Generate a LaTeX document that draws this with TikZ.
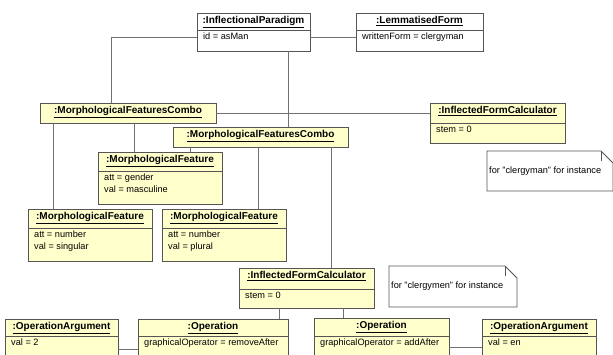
\documentclass[tikz,border=0pt]{standalone}
\usepackage{fontspec}
\setmainfont{Liberation Sans}
\usetikzlibrary{positioning,fit,calc}

\definecolor{objyellow}{HTML}{FFFFCC}
\definecolor{objedge}{HTML}{555555}
\definecolor{connline}{HTML}{707070}

\tikzset{
  objbox/.style={draw=objedge, line width=0.8pt, inner sep=0pt},
  yellowbox/.style={objbox, fill=objyellow},
  whitebox/.style={objbox, fill=white},
  objtitle/.style={inner sep=0pt, anchor=base, font=\fontsize{10}{12}\selectfont\bfseries},
  objattr/.style={inner sep=0pt, anchor=north west, align=left, font=\fontsize{9.2}{12.5}\selectfont},
  conn/.style={draw=connline, line width=0.8pt},
  notebox/.style={draw=objedge, line width=0.8pt, fill=white},
  notetext/.style={inner sep=0pt, anchor=base west, font=\fontsize{9.2}{11}\selectfont},
}

% object box: name, style, left, top, right, bottom, divider, title, attributes
\newcommand{\umlobj}[9]{%
  \node[#2, fit={(#3,-#4) (#5,-#6)}] (#1) {};
  \node[objtitle] (#1t) at ($(#1.north)+(0,-11)$) {\underline{#8}};
  \if\relax\detokenize{#7}\relax\else
    \draw[objbox] (#3,-#7) -- (#5,-#7);
    \node[objattr] (#1a) at (#3+6,-#7-0.5) {\strut#9};
  \fi
}

% note: name, left, top, right, bottom, text
\newcommand{\umlnote}[6]{%
  \draw[notebox] (#2,-#3) -- (#4-12,-#3) -- (#4,-#3-12) -- (#4,-#5) -- (#2,-#5) -- cycle;
  \draw[objbox] (#4-12,-#3) -- (#4-12,-#3-10);
  \node[notetext] (#1) at (#2+2,-#3-22.5) {#6};
}

\begin{document}
\begin{tikzpicture}[x=1pt, y=1pt]
\useasboundingbox (0,0) rectangle (613,-354);
\clip (0,0) rectangle (613,-354);

% Objects
\umlobj{ip}{whitebox}{197}{13}{310}{51}{30}{:InflectionalParadigm}{id = asMan}
\umlobj{lf}{whitebox}{356}{13}{483}{51}{30}{:LemmatisedForm}{writtenForm = clergyman}
\umlobj{mfcA}{yellowbox}{40}{103}{216}{123}{}{:MorphologicalFeaturesCombo}{}
\umlobj{ifcA}{yellowbox}{430}{103}{565}{143}{123}{:InflectedFormCalculator}{stem = 0}
\umlobj{mfcB}{yellowbox}{173}{127}{348}{147}{}{:MorphologicalFeaturesCombo}{}
\umlobj{mfGen}{yellowbox}{98}{152}{222}{204}{171}{:MorphologicalFeature}{att = gender\\val = masculine}
\umlobj{mfSing}{yellowbox}{28}{209}{152}{261}{228}{:MorphologicalFeature}{att = number\\val = singular}
\umlobj{mfPlur}{yellowbox}{162}{209}{286}{261}{228}{:MorphologicalFeature}{att = number\\val = plural}
\umlobj{ifcB}{yellowbox}{239}{268}{374}{308}{289}{:InflectedFormCalculator}{stem = 0}
\umlobj{argA}{yellowbox}{5}{319}{118}{370}{336}{:OperationArgument}{val = 2}
\umlobj{opA}{yellowbox}{138}{319}{288}{370}{336}{:Operation}{graphicalOperator = removeAfter}
\umlobj{opB}{yellowbox}{314}{318}{449}{370}{336}{:Operation}{graphicalOperator = addAfter}
\umlobj{argB}{yellowbox}{482}{319}{596}{370}{336}{:OperationArgument}{val = en}

% Notes
\umlnote{noteA}{487}{151}{613}{191}{for "clergyman" for instance}
\umlnote{noteB}{389}{266}{517}{307}{for "clergymen" for instance}

% Links
\draw[conn] ([yshift=-5pt]ip.east) -- ([yshift=-5pt]ip.east -| lf.west);
\draw[conn] ([yshift=-5pt]ip.west) -| (mfcA.north -| 111,0);
\draw[conn] (ip.south -| 288,0) -- (mfcB.north -| 288,0);
\draw[conn] (mfcA.east) -- (mfcA.east -| ifcA.west);
\draw[conn] (mfcA.south -| 53,0) -- (mfSing.north -| 53,0);
\draw[conn] (mfcA.south -| 134,0) -- (mfGen.north -| 134,0);
\draw[conn] (mfcB.south -| 190,0) -- (mfGen.north -| 190,0);
\draw[conn] (mfcB.south -| 258,0) -- (mfPlur.north -| 258,0);
\draw[conn] (mfcB.south -| 331,0) -- (ifcB.north -| 331,0);
\draw[conn] (ifcB.south -| 279,0) -- (opA.north -| 279,0);
\draw[conn] (ifcB.south -| 343,0) -- (opB.north -| 343,0);
\draw[conn] (argA.east |- 0,-349) -- (opA.west |- 0,-349);
\draw[conn] (opB.east |- 0,-347) -- (argB.west |- 0,-347);

\end{tikzpicture}
\end{document}
